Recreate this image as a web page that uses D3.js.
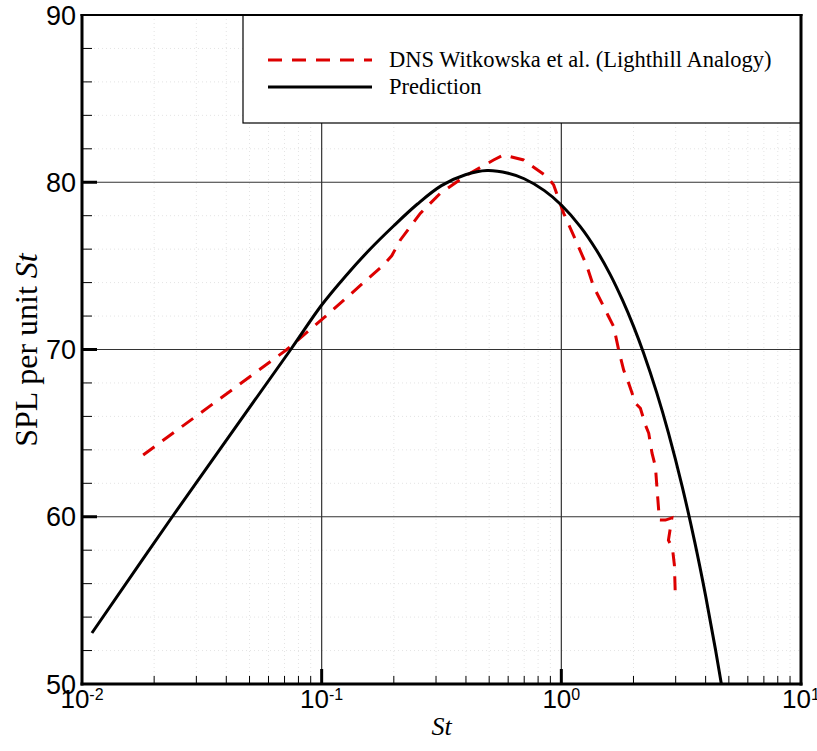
<!DOCTYPE html>
<html>
<head>
<meta charset="utf-8">
<script src="https://cdnjs.cloudflare.com/ajax/libs/d3/7.8.5/d3.min.js"></script>
<style>
body{margin:0;background:#fff;}
</style>
</head>
<body>
<div id="canvas"></div>
<script>
// prediction curve (St, SPL)
let pred_st = [0.011, 0.0238, 0.0743, 0.1, 0.126, 0.158, 0.2, 0.251, 0.316, 0.398, 0.49, 0.6, 0.7, 0.85, 1.0, 1.2, 1.4, 1.6, 1.8, 2.0, 2.2, 2.5, 2.8, 3.2, 3.6, 4.0, 4.4, 4.8],
pred_spl = [53.05, 60.0, 70.0, 72.66, 74.4, 75.95, 77.4, 78.7, 79.8, 80.45, 80.7, 80.54, 80.21, 79.5, 78.64, 77.35, 75.95, 74.48, 72.95, 71.4, 69.82, 67.42, 65.0, 61.76, 58.51, 55.27, 52.04, 48.84];

// DNS Witkowska et al. (St, SPL)
let dns_st = [0.018, 0.0716, 0.1017, 0.181, 0.196, 0.213, 0.2578, 0.3125, 0.4035, 0.5215, 0.574, 0.696, 0.872, 0.929, 1.023, 1.163, 1.281, 1.364, 1.455, 1.576, 1.654, 1.735, 1.82, 1.91, 2.04, 2.137, 2.243, 2.316, 2.39, 2.47, 2.51, 2.566, 2.718, 2.893, 2.798, 2.908, 2.964, 2.992],
dns_spl = [63.69, 70.0, 71.87, 75.05, 75.6, 76.55, 78.14, 79.34, 80.43, 81.33, 81.63, 81.33, 80.33, 79.84, 78.14, 76.35, 74.95, 73.75, 72.96, 71.96, 71.36, 69.97, 68.77, 67.98, 66.78, 66.49, 65.49, 64.99, 63.8, 62.99, 61.6, 59.81, 59.8, 59.93, 58.6, 58.13, 57.1, 55.14];

let legend_labels = ['DNS Witkowska et al. (Lighthill Analogy)', 'Prediction'];
let x_major = [0.01, 0.1, 1, 10],
x_exp = ['-2', '-1', '0', '1'],
y_major = [50, 60, 70, 80, 90];

let W = 817, H = 751,
pleft = 82, pright = 801, ptop = 15, pbottom = 684;

let canvas = d3.select('#canvas').append('svg').attr('width', W).attr('height', H);

let x = d3.scaleLog().domain([0.01, 10]).range([pleft, pright]),
y = d3.scaleLinear().domain([50, 90]).range([pbottom, ptop]);

// minor values
let x_minor = [];
[0.01, 0.1, 1].forEach(d=>{
	for(let k = 2; k <= 9; k++) x_minor.push(d * k);
});
let y_minor = d3.range(52, 90, 2).filter(d=>d % 10 != 0);

//faint dotted minor grid
let grid = canvas.append('g');
grid.selectAll('.vminor').data(x_minor).enter().append('line')
.attr('x1', d=>x(d)).attr('x2', d=>x(d))
.attr('y1', ptop).attr('y2', pbottom)
.style('stroke', '#e4e4e4').style('stroke-width', 1).style('stroke-dasharray', '1,3');
grid.selectAll('.hminor').data(y_minor).enter().append('line')
.attr('x1', pleft).attr('x2', pright)
.attr('y1', d=>y(d)).attr('y2', d=>y(d))
.style('stroke', '#e4e4e4').style('stroke-width', 1).style('stroke-dasharray', '1,3');

//major grid
grid.selectAll('.vmajor').data([0.1, 1]).enter().append('line')
.attr('x1', d=>x(d)).attr('x2', d=>x(d))
.attr('y1', ptop).attr('y2', pbottom)
.style('stroke', '#333').style('stroke-width', 1.2);
grid.selectAll('.hmajor').data([60, 70, 80]).enter().append('line')
.attr('x1', pleft).attr('x2', pright)
.attr('y1', d=>y(d)).attr('y2', d=>y(d))
.style('stroke', '#333').style('stroke-width', 1.2);

//clip
canvas.append('defs').append('clipPath').attr('id', 'plotclip')
.append('rect').attr('x', pleft).attr('y', ptop).attr('width', pright - pleft).attr('height', pbottom - ptop);

let plot = canvas.append('g').attr('clip-path', 'url(#plotclip)');

let dns = dns_st.map((d, i)=>[d, dns_spl[i]]),
pred = pred_st.map((d, i)=>[d, pred_spl[i]]);

let line_linear = d3.line().x(d=>x(d[0])).y(d=>y(d[1])),
line_smooth = d3.line().x(d=>x(d[0])).y(d=>y(d[1])).curve(d3.curveCatmullRom.alpha(0.5));

plot.append('path').datum(dns)
.attr('d', line_linear)
.style('fill', 'none')
.style('stroke', '#dd0000')
.style('stroke-width', 3)
.style('stroke-dasharray', '14,10');

plot.append('path').datum(pred)
.attr('d', line_smooth)
.style('fill', 'none')
.style('stroke', '#000')
.style('stroke-width', 3);

//legend
let legend = canvas.append('g');
legend.append('rect')
.attr('x', 243).attr('y', ptop).attr('width', pright - 243).attr('height', 123 - ptop)
.style('fill', '#fff').style('stroke', '#000').style('stroke-width', 1.2);

legend.selectAll('.legline').data(legend_labels).enter().append('line')
.attr('x1', 268).attr('x2', 372)
.attr('y1', (d, i)=>60 + i * 27).attr('y2', (d, i)=>60 + i * 27)
.style('stroke', (d, i)=>i == 0 ? '#dd0000' : '#000')
.style('stroke-width', 3)
.style('stroke-dasharray', (d, i)=>i == 0 ? '14,10' : null);

legend.selectAll('.legtext').data(legend_labels).enter().append('text')
.attr('x', 389)
.attr('y', (d, i)=>60 + i * 27)
.attr('dy', '0.33em')
.text(d=>d)
.style('font-family', '"Liberation Serif", "Times New Roman", serif')
.style('font-size', '22.5px');

//frame
let frame = canvas.append('g');
frame.append('line').attr('x1', pleft).attr('x2', pleft).attr('y1', ptop - 1).attr('y2', pbottom + 1.5)
.style('stroke', '#000').style('stroke-width', 3);
frame.append('line').attr('x1', pleft - 1.5).attr('x2', pright + 1.5).attr('y1', pbottom).attr('y2', pbottom)
.style('stroke', '#000').style('stroke-width', 3);
frame.append('line').attr('x1', pright).attr('x2', pright).attr('y1', ptop - 1).attr('y2', pbottom + 1.5)
.style('stroke', '#000').style('stroke-width', 3);
frame.append('line').attr('x1', pleft - 1.5).attr('x2', pright + 1.5).attr('y1', ptop).attr('y2', ptop)
.style('stroke', '#000').style('stroke-width', 2);

//ticks
frame.selectAll('.xminortick').data(x_minor).enter().append('line')
.attr('x1', d=>x(d)).attr('x2', d=>x(d))
.attr('y1', pbottom).attr('y2', pbottom - 8)
.style('stroke', '#000').style('stroke-width', 1);
frame.selectAll('.xmajortick').data([0.1, 1]).enter().append('line')
.attr('x1', d=>x(d)).attr('x2', d=>x(d))
.attr('y1', pbottom).attr('y2', pbottom - 15)
.style('stroke', '#000').style('stroke-width', 3);
frame.selectAll('.yminortick').data(y_minor).enter().append('line')
.attr('x1', pleft).attr('x2', pleft + 10)
.attr('y1', d=>y(d)).attr('y2', d=>y(d))
.style('stroke', '#000').style('stroke-width', 1);
frame.selectAll('.ymajortick').data([60, 70, 80]).enter().append('line')
.attr('x1', pleft).attr('x2', pleft + 15)
.attr('y1', d=>y(d)).attr('y2', d=>y(d))
.style('stroke', '#000').style('stroke-width', 3);

//tick labels
let sans = '"Liberation Sans", Arial, Helvetica, sans-serif';
canvas.selectAll('.ylabel').data(y_major).enter().append('text')
.attr('x', pleft - 6)
.attr('y', d=>y(d) + 9.5)
.attr('text-anchor', 'end')
.text(d=>d)
.style('font-family', sans)
.style('font-size', '27px');

let xl = canvas.selectAll('.xlabel').data(x_major).enter().append('text')
.attr('x', d=>x(d))
.attr('y', pbottom + 24)
.attr('text-anchor', 'middle')
.style('font-family', sans)
.style('font-size', '26px');
xl.append('tspan').text('10');
xl.append('tspan').text((d, i)=>x_exp[i]).attr('dy', '-0.5em').style('font-size', '16px');

//axis titles
let serif = '"Liberation Serif", "Times New Roman", serif';
canvas.append('text')
.attr('x', (pleft + pright) / 2)
.attr('y', 735)
.attr('text-anchor', 'middle')
.style('font-family', serif)
.style('font-style', 'italic')
.style('font-size', '26px')
.text('St');

let yt = canvas.append('text')
.attr('transform', 'translate(37,' + 350 + ') rotate(-90)')
.attr('text-anchor', 'middle')
.style('font-family', serif)
.style('font-size', '32px');
yt.append('tspan').text('SPL per unit ');
yt.append('tspan').text('St').style('font-style', 'italic');
</script>
</body>
</html>
